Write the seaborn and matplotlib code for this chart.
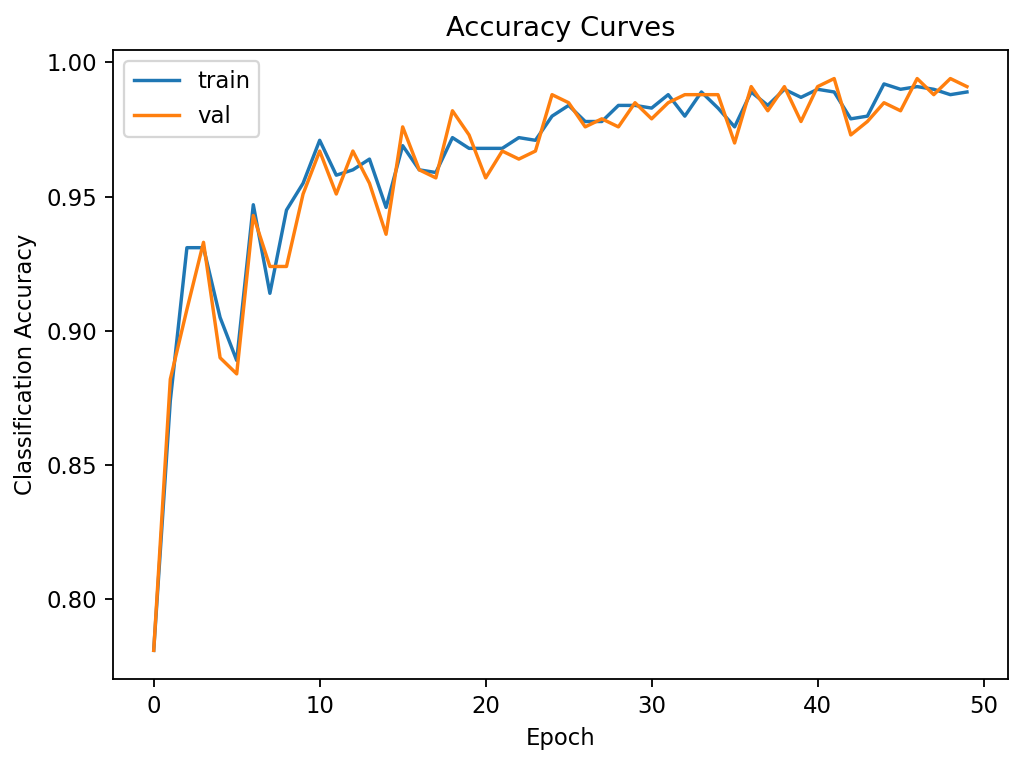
import pandas as pd
import matplotlib
matplotlib.use('Agg')
import matplotlib.pyplot as plt
import seaborn as sns

# accuracy per epoch
epochs = list(range(50))
train_acc = [0.781, 0.874, 0.931, 0.931, 0.905, 0.889, 0.947, 0.914, 0.945, 0.955,
             0.971, 0.958, 0.960, 0.964, 0.946, 0.969, 0.960, 0.959, 0.972, 0.968,
             0.968, 0.968, 0.972, 0.971, 0.980, 0.984, 0.978, 0.978, 0.984, 0.984,
             0.983, 0.988, 0.980, 0.989, 0.983, 0.976, 0.989, 0.984, 0.990, 0.987,
             0.990, 0.989, 0.979, 0.980, 0.992, 0.990, 0.991, 0.990, 0.988, 0.989]
val_acc = [0.781, 0.882, 0.908, 0.933, 0.890, 0.884, 0.943, 0.924, 0.924, 0.951,
           0.967, 0.951, 0.967, 0.955, 0.936, 0.976, 0.960, 0.957, 0.982, 0.973,
           0.957, 0.967, 0.964, 0.967, 0.988, 0.985, 0.976, 0.979, 0.976, 0.985,
           0.979, 0.985, 0.988, 0.988, 0.988, 0.970, 0.991, 0.982, 0.991, 0.978,
           0.991, 0.994, 0.973, 0.978, 0.985, 0.982, 0.994, 0.988, 0.994, 0.991]


def main():
    df = pd.DataFrame({
        'epoch': epochs * 2,
        'accuracy': train_acc + val_acc,
        'split': ['train'] * len(epochs) + ['val'] * len(epochs),
    })

    dpi = 164
    fig, ax = plt.subplots(figsize=(1024 / dpi, 764 / dpi), dpi=dpi)
    sns.lineplot(data=df, x='epoch', y='accuracy', hue='split',
                 palette=['#1f77b4', '#ff7f0e'], linewidth=1.5, ax=ax)
    ax.set_title('Accuracy Curves')
    ax.set_xlabel('Epoch')
    ax.set_ylabel('Classification Accuracy')
    ax.legend(loc='upper left', title=None)
    fig.subplots_adjust(left=0.1104, right=0.984, top=0.9346, bottom=0.1113)
    plt.savefig('out.png', dpi=dpi)
    plt.close()


if __name__ == '__main__':
    main()
